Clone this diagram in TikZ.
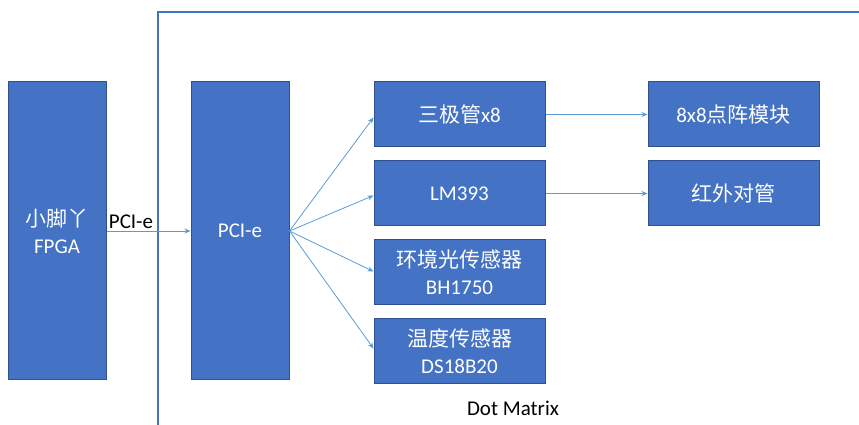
\documentclass[tikz,border=0pt]{standalone}
\usepackage{fontspec}
\setmainfont{Carlito}
\newfontfamily\cjk{Noto Sans CJK SC}
\usetikzlibrary{arrows.meta, positioning}
\definecolor{boxblue}{HTML}{4472C4}
\definecolor{boxedge}{HTML}{2F528F}
\definecolor{linkblue}{HTML}{5B9BD5}

\begin{document}
\begin{tikzpicture}[
    x=1pt, y=1pt,
    font=\fontsize{21}{27}\selectfont,
    tall/.style={rectangle, draw=boxedge, fill=boxblue, text=white, minimum width=98pt, minimum height=298pt, align=center, line width=1pt},
    box/.style={rectangle, draw=boxedge, fill=boxblue, text=white, minimum width=171pt, minimum height=65pt, align=center, line width=1pt},
    arrow/.style={-{Stealth[length=6pt,width=5pt]}, draw=linkblue, line width=0.8pt}
]
\useasboundingbox (0,0) rectangle (859,425);

% Frame of the board
\draw[boxblue, line width=1.3pt] (158,0) |- (859,413);
\node (caption) at (513,17) {Dot Matrix};

% Host and bus
\node[tall] (fpga) at (57,194) {{\cjk 小脚丫}\\FPGA};
\node[tall, right=84pt of fpga] (pci) {PCI-e};

% Peripherals
\node[box, right=84pt of pci, yshift=116.5pt] (tri) {{\cjk 三极管}x8};
\node[box, below=13pt of tri] (lm) {LM393};
\node[box, below=13pt of lm] (bh) {{\cjk 环境光传感器}\\BH1750};
\node[box, below=13pt of bh] (ds) {{\cjk 温度传感器}\\DS18B20};

% Outputs
\node[box, right=102pt of tri] (dots) {8x8{\cjk 点阵模块}};
\node[box, right=102pt of lm] (ir) {{\cjk 红外对管}};

% Arrows
\draw[arrow] (fpga) -- node[pos=0, above right, inner sep=2pt, text=black] (bus) {PCI-e} (pci);

\draw[arrow] (pci.east) -- ([yshift=-3pt]tri.west);
\draw[arrow] (pci.east) -- ([yshift=-2pt]lm.west);
\draw[arrow] (pci.east) -- ([yshift=1pt]bh.west);
\draw[arrow] (pci.east) -- ([yshift=3pt]ds.west);

\draw[arrow] (tri) -- (dots);
\draw[arrow] (lm) -- (ir);
\end{tikzpicture}
\end{document}
